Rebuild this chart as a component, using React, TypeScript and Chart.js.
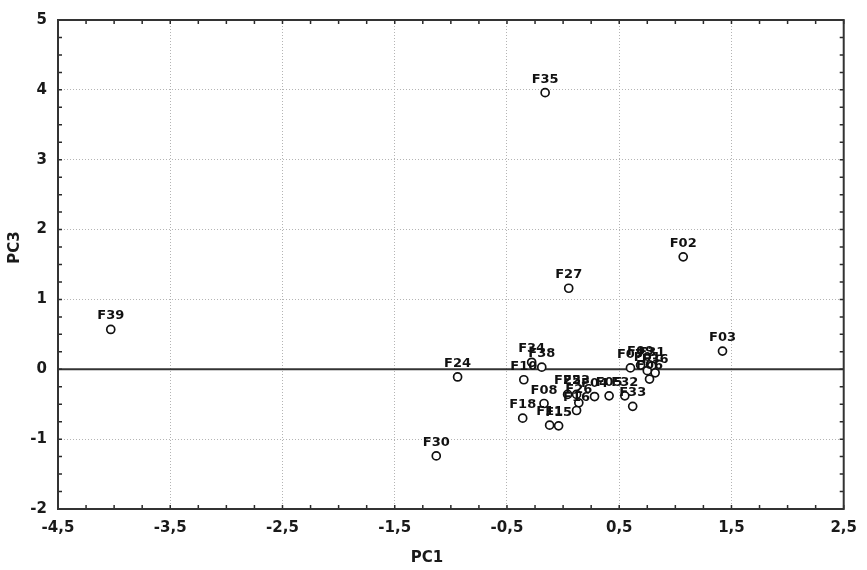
import React, { useEffect, useRef } from 'react';
import { Chart, registerables } from 'chart.js';

Chart.register(...registerables);

const sampleLabels = [
  'F35', 'F02', 'F27', 'F39', 'F03', 'F24', 'F30',
  'F34', 'F38', 'F10', 'F08', 'F18', 'F11', 'F15',
  'F25', 'F23', 'F26', 'F16', 'F04', 'F05', 'F32', 'F33',
  'F07', 'F09', 'F31', 'F36', 'F06', 'F01',
];
const pc1Values = [
  -0.16, 1.07, 0.05, -4.03, 1.42, -0.94, -1.13,
  -0.28, -0.19, -0.35, -0.17, -0.36, -0.12, -0.04,
  0.04, 0.12, 0.14, 0.12, 0.28, 0.41, 0.55, 0.62,
  0.6, 0.69, 0.79, 0.82, 0.77, 0.75,
];
const pc3Values = [
  3.96, 1.61, 1.16, 0.57, 0.26, -0.11, -1.24,
  0.1, 0.03, -0.15, -0.49, -0.7, -0.8, -0.81,
  -0.36, -0.36, -0.48, -0.59, -0.39, -0.38, -0.38, -0.53,
  0.02, 0.06, 0.05, -0.05, -0.14, -0.02,
];
const xTickValues = [-4.5, -3.5, -2.5, -1.5, -0.5, 0.5, 1.5, 2.5];
const yTickValues = [-2, -1, 0, 1, 2, 3, 4, 5];
const xTitle = 'PC1';
const yTitle = 'PC3';

const FONT = "'DejaVu Sans', Verdana, sans-serif";

const decorPlugin = {
  id: 'decor',
  beforeDatasetsDraw(chart: any) {
    const { ctx, chartArea: a, scales } = chart;
    const y0 = scales.y.getPixelForValue(0);
    ctx.save();
    ctx.strokeStyle = '#333';
    ctx.lineWidth = 2;
    ctx.beginPath();
    ctx.moveTo(a.left, y0);
    ctx.lineTo(a.right, y0);
    ctx.stroke();
    ctx.restore();
  },
  afterDatasetsDraw(chart: any) {
    const { ctx } = chart;
    const meta = chart.getDatasetMeta(0);
    ctx.save();
    ctx.font = `bold 13px ${FONT}`;
    ctx.fillStyle = '#111';
    ctx.textAlign = 'center';
    ctx.textBaseline = 'alphabetic';
    meta.data.forEach((pt: any, i: number) => {
      ctx.fillText(sampleLabels[i], pt.x, pt.y - 10);
    });
    ctx.restore();
  },
  afterDraw(chart: any) {
    const { ctx, chartArea: a, scales } = chart;
    const xs = scales.x;
    const ys = scales.y;
    ctx.save();
    ctx.strokeStyle = '#2a2a2a';
    ctx.lineWidth = 1.5;
    ctx.beginPath();
    for (let v = xs.min; v <= xs.max + 1e-9; v += 0.25) {
      const px = xs.getPixelForValue(v);
      ctx.moveTo(px, a.bottom);
      ctx.lineTo(px, a.bottom - 4);
      ctx.moveTo(px, a.top);
      ctx.lineTo(px, a.top + 4);
    }
    for (let v = ys.min; v <= ys.max + 1e-9; v += 0.25) {
      const py = ys.getPixelForValue(v);
      ctx.moveTo(a.left, py);
      ctx.lineTo(a.left + 4, py);
      ctx.moveTo(a.right, py);
      ctx.lineTo(a.right - 4, py);
    }
    ctx.stroke();
    ctx.strokeStyle = '#333';
    ctx.lineWidth = 2;
    ctx.strokeRect(a.left, a.top, a.right - a.left, a.bottom - a.top);

    ctx.fillStyle = '#1a1a1a';
    ctx.font = `bold 15px ${FONT}`;
    ctx.textAlign = 'center';
    ctx.textBaseline = 'middle';
    ctx.fillText(xTitle, (a.left + a.right) / 2 - 24, a.bottom + 49);
    ctx.translate(15, (a.top + a.bottom) / 2 - 17);
    ctx.rotate(-Math.PI / 2);
    ctx.fillText(yTitle, 0, 0);
    ctx.restore();
  },
};

export default function App() {
  const canvasRef = useRef<HTMLCanvasElement | null>(null);

  useEffect(() => {
    if (!canvasRef.current) return;
    const points = pc1Values.map((x, i) => ({ x, y: pc3Values[i] }));
    const chart = new Chart(canvasRef.current, {
      type: 'scatter',
      data: {
        datasets: [
          {
            label: 'Samples',
            data: points,
            pointRadius: 4,
            pointHoverRadius: 4,
            pointBorderWidth: 1.7,
            pointBackgroundColor: '#ffffff',
            pointBorderColor: '#111111',
          },
        ],
      },
      options: {
        animation: false,
        responsive: true,
        maintainAspectRatio: false,
        layout: { padding: { top: 13, right: 22, left: 0, bottom: 0 } },
        plugins: {
          legend: { display: false },
          tooltip: { enabled: false },
        },
        scales: {
          x: {
            type: 'linear',
            min: -4.5,
            max: 2.5,
            afterBuildTicks: (s: any) => {
              s.ticks = xTickValues.map((v) => ({ value: v }));
            },
            afterFit: (s: any) => {
              s.height = 61;
            },
            ticks: {
              padding: 10,
              color: '#1a1a1a',
              font: { family: FONT, size: 15, weight: 'bold' },
              callback: (v: any) => String(v).replace('.', ','),
              maxRotation: 0,
              autoSkip: false,
            },
            grid: {
              drawTicks: false,
              color: (c: any) =>
                c.index === 0 || c.index === xTickValues.length - 1 ? 'rgba(0,0,0,0)' : '#b4b4b4',
              lineWidth: 1,
            },
            border: { display: false, dash: [1, 2] },
          },
          y: {
            type: 'linear',
            min: -2,
            max: 5,
            afterBuildTicks: (s: any) => {
              s.ticks = yTickValues.map((v) => ({ value: v }));
            },
            afterFit: (s: any) => {
              s.width = 58;
            },
            ticks: {
              padding: 11,
              color: '#1a1a1a',
              font: { family: FONT, size: 15, weight: 'bold' },
              callback: (v: any) => String(v),
              autoSkip: false,
            },
            grid: {
              drawTicks: false,
              color: (c: any) =>
                c.index === 0 || c.index === yTickValues.length - 1 ? 'rgba(0,0,0,0)' : '#b4b4b4',
              lineWidth: 1,
            },
            border: { display: false, dash: [1, 2] },
          },
        },
      },
      plugins: [decorPlugin],
    });
    return () => chart.destroy();
  }, []);

  return (
    <div style={{ position: 'absolute', left: 0, top: 0, width: 867, height: 570, background: '#fff' }}>
      <canvas ref={canvasRef} />
    </div>
  );
}
